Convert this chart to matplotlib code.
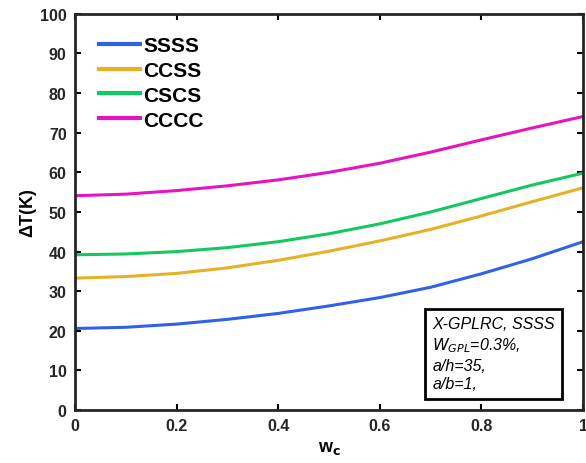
import matplotlib
matplotlib.use("Agg")
import matplotlib.pyplot as plt
import numpy as np

plt.rcParams["font.family"] = ["Liberation Sans", "DejaVu Sans"]

wc = [0.0, 0.1, 0.2, 0.3, 0.4, 0.5, 0.6, 0.7, 0.8, 0.9, 1.0]
ssss = [20.6, 20.9, 21.7, 22.9, 24.4, 26.3, 28.4, 31.0, 34.4, 38.2, 42.5]
ccss = [33.3, 33.7, 34.5, 35.9, 37.8, 40.1, 42.7, 45.6, 49.0, 52.6, 56.1]
cscs = [39.2, 39.4, 40.0, 41.0, 42.5, 44.5, 47.0, 50.0, 53.4, 56.8, 59.8]
cccc = [54.1, 54.5, 55.4, 56.6, 58.1, 60.0, 62.3, 65.1, 68.2, 71.2, 74.1]

series = {"SSSS": ssss, "CCSS": ccss, "CSCS": cscs, "CCCC": cccc}
colors = ["#2f62e6", "#e8b124", "#12c860", "#e614c0"]

fig = plt.figure(figsize=(5.86, 4.64), dpi=100)
ax = fig.add_axes([0.128, 0.114, 0.867, 0.854])

for (name, vals), c in zip(series.items(), colors):
    ax.plot(wc, vals, color=c, lw=2.2, label=name)

ax.set_xlim(0, 1)
ax.set_ylim(0, 100)
ax.set_xticks(np.arange(0, 1.01, 0.2))
ax.set_xticklabels(["0", "0.2", "0.4", "0.6", "0.8", "1"])
ax.set_yticks(np.arange(0, 101, 10))
ax.tick_params(direction="in", top=True, right=True, width=1.5, length=4,
               labelsize=11.5, pad=6)
for lab in ax.get_xticklabels() + ax.get_yticklabels():
    lab.set_fontweight("bold")
    lab.set_color("#262626")
for s in ax.spines.values():
    s.set_linewidth(2)
    s.set_color("#262626")

ax.set_xlabel("w$_\\mathbf{c}$", fontsize=13, fontweight="bold", labelpad=4)
ax.set_ylabel("ΔT(K)", fontsize=13, fontweight="bold", labelpad=3)

leg = ax.legend(loc="upper left", frameon=False, prop={"weight": "bold", "size": 15},
                handlelength=2.0, handletextpad=0.15, labelspacing=0.28,
                borderaxespad=0, bbox_to_anchor=(0.03, 0.965))
for h in leg.get_lines():
    h.set_linewidth(3)

ax.text(0.703, 0.047, "X-GPLRC, SSSS\n$W_{GPL}$=0.3%,\na/h=35,\na/b=1,",
        transform=ax.transAxes, fontsize=11.5, style="italic", va="bottom", ha="left",
        linespacing=1.3,
        bbox=dict(boxstyle="square,pad=0.45", fc="white", ec="black", lw=2))

fig.savefig("out.png", dpi=100)
